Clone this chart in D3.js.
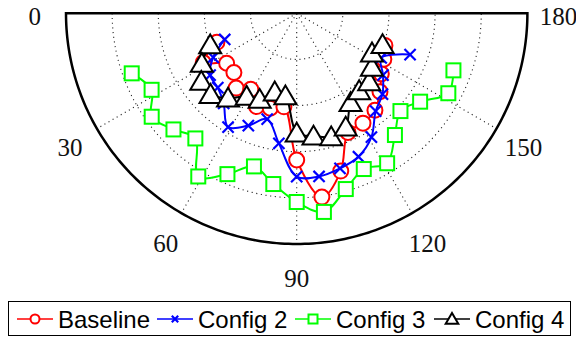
<!DOCTYPE html>
<html>
<head>
<meta charset="utf-8">
<script src="https://cdn.jsdelivr.net/npm/d3@7"></script>
<style>
  body { margin: 0; background: #fff; }
  svg { display: block; }
</style>
</head>
<body>
<div id="chart"></div>
<script>
// angles (degrees) shared by all series
var angles = [20, 27.8, 35.5, 43.3, 51, 58.9, 66.7, 74.4, 82.2, 90, 97.8, 105.6, 113.3, 121.1, 128.9, 136.7, 144.4, 152.2, 160];

var baseline = [0.368, 0.458, 0.373, 0.374, 0.417, 0.385, 0.44, 0.427, 0.409, 0.636, 0.804, 0.71, 0.562, 0.556, 0.54, 0.496, 0.451, 0.427, 0.407];
var config2  = [0.332, 0.409, 0.461, 0.47, 0.503, 0.576, 0.53, 0.476, 0.569, 0.708, 0.714, 0.698, 0.677, 0.627, 0.545, 0.511, 0.46, 0.414, 0.523];
var config3  = [0.761, 0.711, 0.772, 0.734, 0.698, 0.826, 0.759, 0.689, 0.747, 0.818, 0.869, 0.791, 0.735, 0.759, 0.678, 0.618, 0.658, 0.743, 0.723];
var config4  = [0.399, 0.465, 0.508, 0.513, 0.473, 0.42, 0.406, 0.354, 0.361, 0.519, 0.537, 0.556, 0.537, 0.452, 0.431, 0.432, 0.401, 0.369, 0.396];

var seriesNames = ["Baseline", "Config 2", "Config 3", "Config 4"];
var angleTicks = [0, 30, 60, 90, 120, 150, 180];
var ringTicks = [0.2, 0.4, 0.6, 0.8];

var W = 576, H = 338;
var cx = 296.7, cy = 13.3, R = 230.7;

var svg = d3.select("#chart").append("svg").attr("width", W).attr("height", H);

var rScale = d3.scaleLinear().domain([0, 1]).range([0, R]);
var aScale = d3.scaleLinear().domain([0, 180]).range([0, Math.PI]);

function px(a, r) { return cx - rScale(r) * Math.cos(aScale(a)); }
function py(a, r) { return cy + rScale(r) * Math.sin(aScale(a)); }

// half-circle arc path for radius r
function halfArc(r) {
    var pts = d3.range(0, 180.5, 1).map(function (a) { return [px(a, r), py(a, r)]; });
    return d3.line()(pts);
}

var grid = svg.append("g");
grid.selectAll(".ring").data(ringTicks).enter().append("path")
    .attr("d", function (d) { return halfArc(d); })
    .attr("fill", "none").attr("stroke", "#222").attr("stroke-width", 1.1)
    .attr("stroke-dasharray", "1.1,3.6");

grid.selectAll(".spoke").data([30, 60, 90, 120, 150]).enter().append("line")
    .attr("x1", cx).attr("y1", cy)
    .attr("x2", function (d) { return px(d, 1); })
    .attr("y2", function (d) { return py(d, 1); })
    .attr("stroke", "#222").attr("stroke-width", 1.1)
    .attr("stroke-dasharray", "1.1,3.6");

// outer boundary
svg.append("path").attr("d", halfArc(1) + "Z")
    .attr("fill", "none").attr("stroke", "#000").attr("stroke-width", 2.5);

// angle labels
svg.selectAll(".alabel").data(angleTicks).enter().append("text")
    .attr("x", function (d) { return px(d, 1.135); })
    .attr("y", function (d) { return py(d, 1.135) + 3; })
    .attr("text-anchor", "middle")
    .attr("dominant-baseline", "central")
    .attr("font-family", "Liberation Serif, serif")
    .attr("font-size", 25)
    .attr("fill", "#111")
    .text(function (d) { return d; });

var series = [
    { name: seriesNames[0], values: baseline, color: "#ff0000", marker: "circle" },
    { name: seriesNames[1], values: config2, color: "#0000ff", marker: "cross" },
    { name: seriesNames[2], values: config3, color: "#00ff00", marker: "square" },
    { name: seriesNames[3], values: config4, color: "#000000", marker: "triangle" }
];

function drawMarker(g, type, x, y, s, color) {
    if (type === "circle") {
        g.append("circle").attr("cx", x).attr("cy", y).attr("r", s)
            .attr("fill", "#fff").attr("stroke", color).attr("stroke-width", 2);
    } else if (type === "square") {
        g.append("rect").attr("x", x - s).attr("y", y - s).attr("width", 2 * s).attr("height", 2 * s)
            .attr("fill", "#fff").attr("stroke", color).attr("stroke-width", 2);
    } else if (type === "triangle") {
        var h = s * 1.8;
        g.append("path")
            .attr("d", "M" + x + "," + (y - h * 0.55) + "L" + (x + s * 1.05) + "," + (y + h * 0.45) + "L" + (x - s * 1.05) + "," + (y + h * 0.45) + "Z")
            .attr("fill", "#fff").attr("stroke", color).attr("stroke-width", 2).attr("stroke-linejoin", "miter");
    } else {
        var c = s * 0.8;
        g.append("path")
            .attr("d", "M" + (x - c) + "," + (y - c) + "L" + (x + c) + "," + (y + c) + "M" + (x - c) + "," + (y + c) + "L" + (x + c) + "," + (y - c))
            .attr("stroke", color).attr("stroke-width", 2.2).attr("fill", "none");
    }
}

var line = d3.line()
    .x(function (d) { return px(d[0], d[1]); })
    .y(function (d) { return py(d[0], d[1]); })
    .curve(d3.curveCatmullRom.alpha(0.5));

var sizes = { circle: 7.5, cross: 7, square: 7, triangle: 10.5 };

series.forEach(function (s) {
    var pts = angles.map(function (a, i) { return [a, s.values[i]]; });
    var g = svg.append("g");
    g.append("path").datum(pts).attr("d", line)
        .attr("fill", "none").attr("stroke", s.color).attr("stroke-width", 2);
    pts.forEach(function (p) {
        drawMarker(g, s.marker, px(p[0], p[1]), py(p[0], p[1]), sizes[s.marker], s.color);
    });
});

// legend
var leg = svg.append("g");
leg.append("rect").attr("x", 8.5).attr("y", 301.5).attr("width", 562).attr("height", 34)
    .attr("fill", "#fff").attr("stroke", "#000").attr("stroke-width", 1);

var legX = [17, 157, 295, 434];
var legY = 319;
var legSizes = { circle: 4.5, cross: 4, square: 4.5, triangle: 6 };
series.forEach(function (s, i) {
    var x0 = legX[i];
    leg.append("line").attr("x1", x0).attr("x2", x0 + 36).attr("y1", legY).attr("y2", legY)
        .attr("stroke", s.color).attr("stroke-width", 1.5);
    drawMarker(leg, s.marker, x0 + 18, legY, legSizes[s.marker], s.color);
    leg.append("text").attr("x", x0 + 41).attr("y", legY + 8.5)
        .attr("font-family", "Liberation Sans, Arial, sans-serif")
        .attr("font-size", 24)
        .attr("fill", "#000")
        .text(s.name);
});
</script>
</body>
</html>
